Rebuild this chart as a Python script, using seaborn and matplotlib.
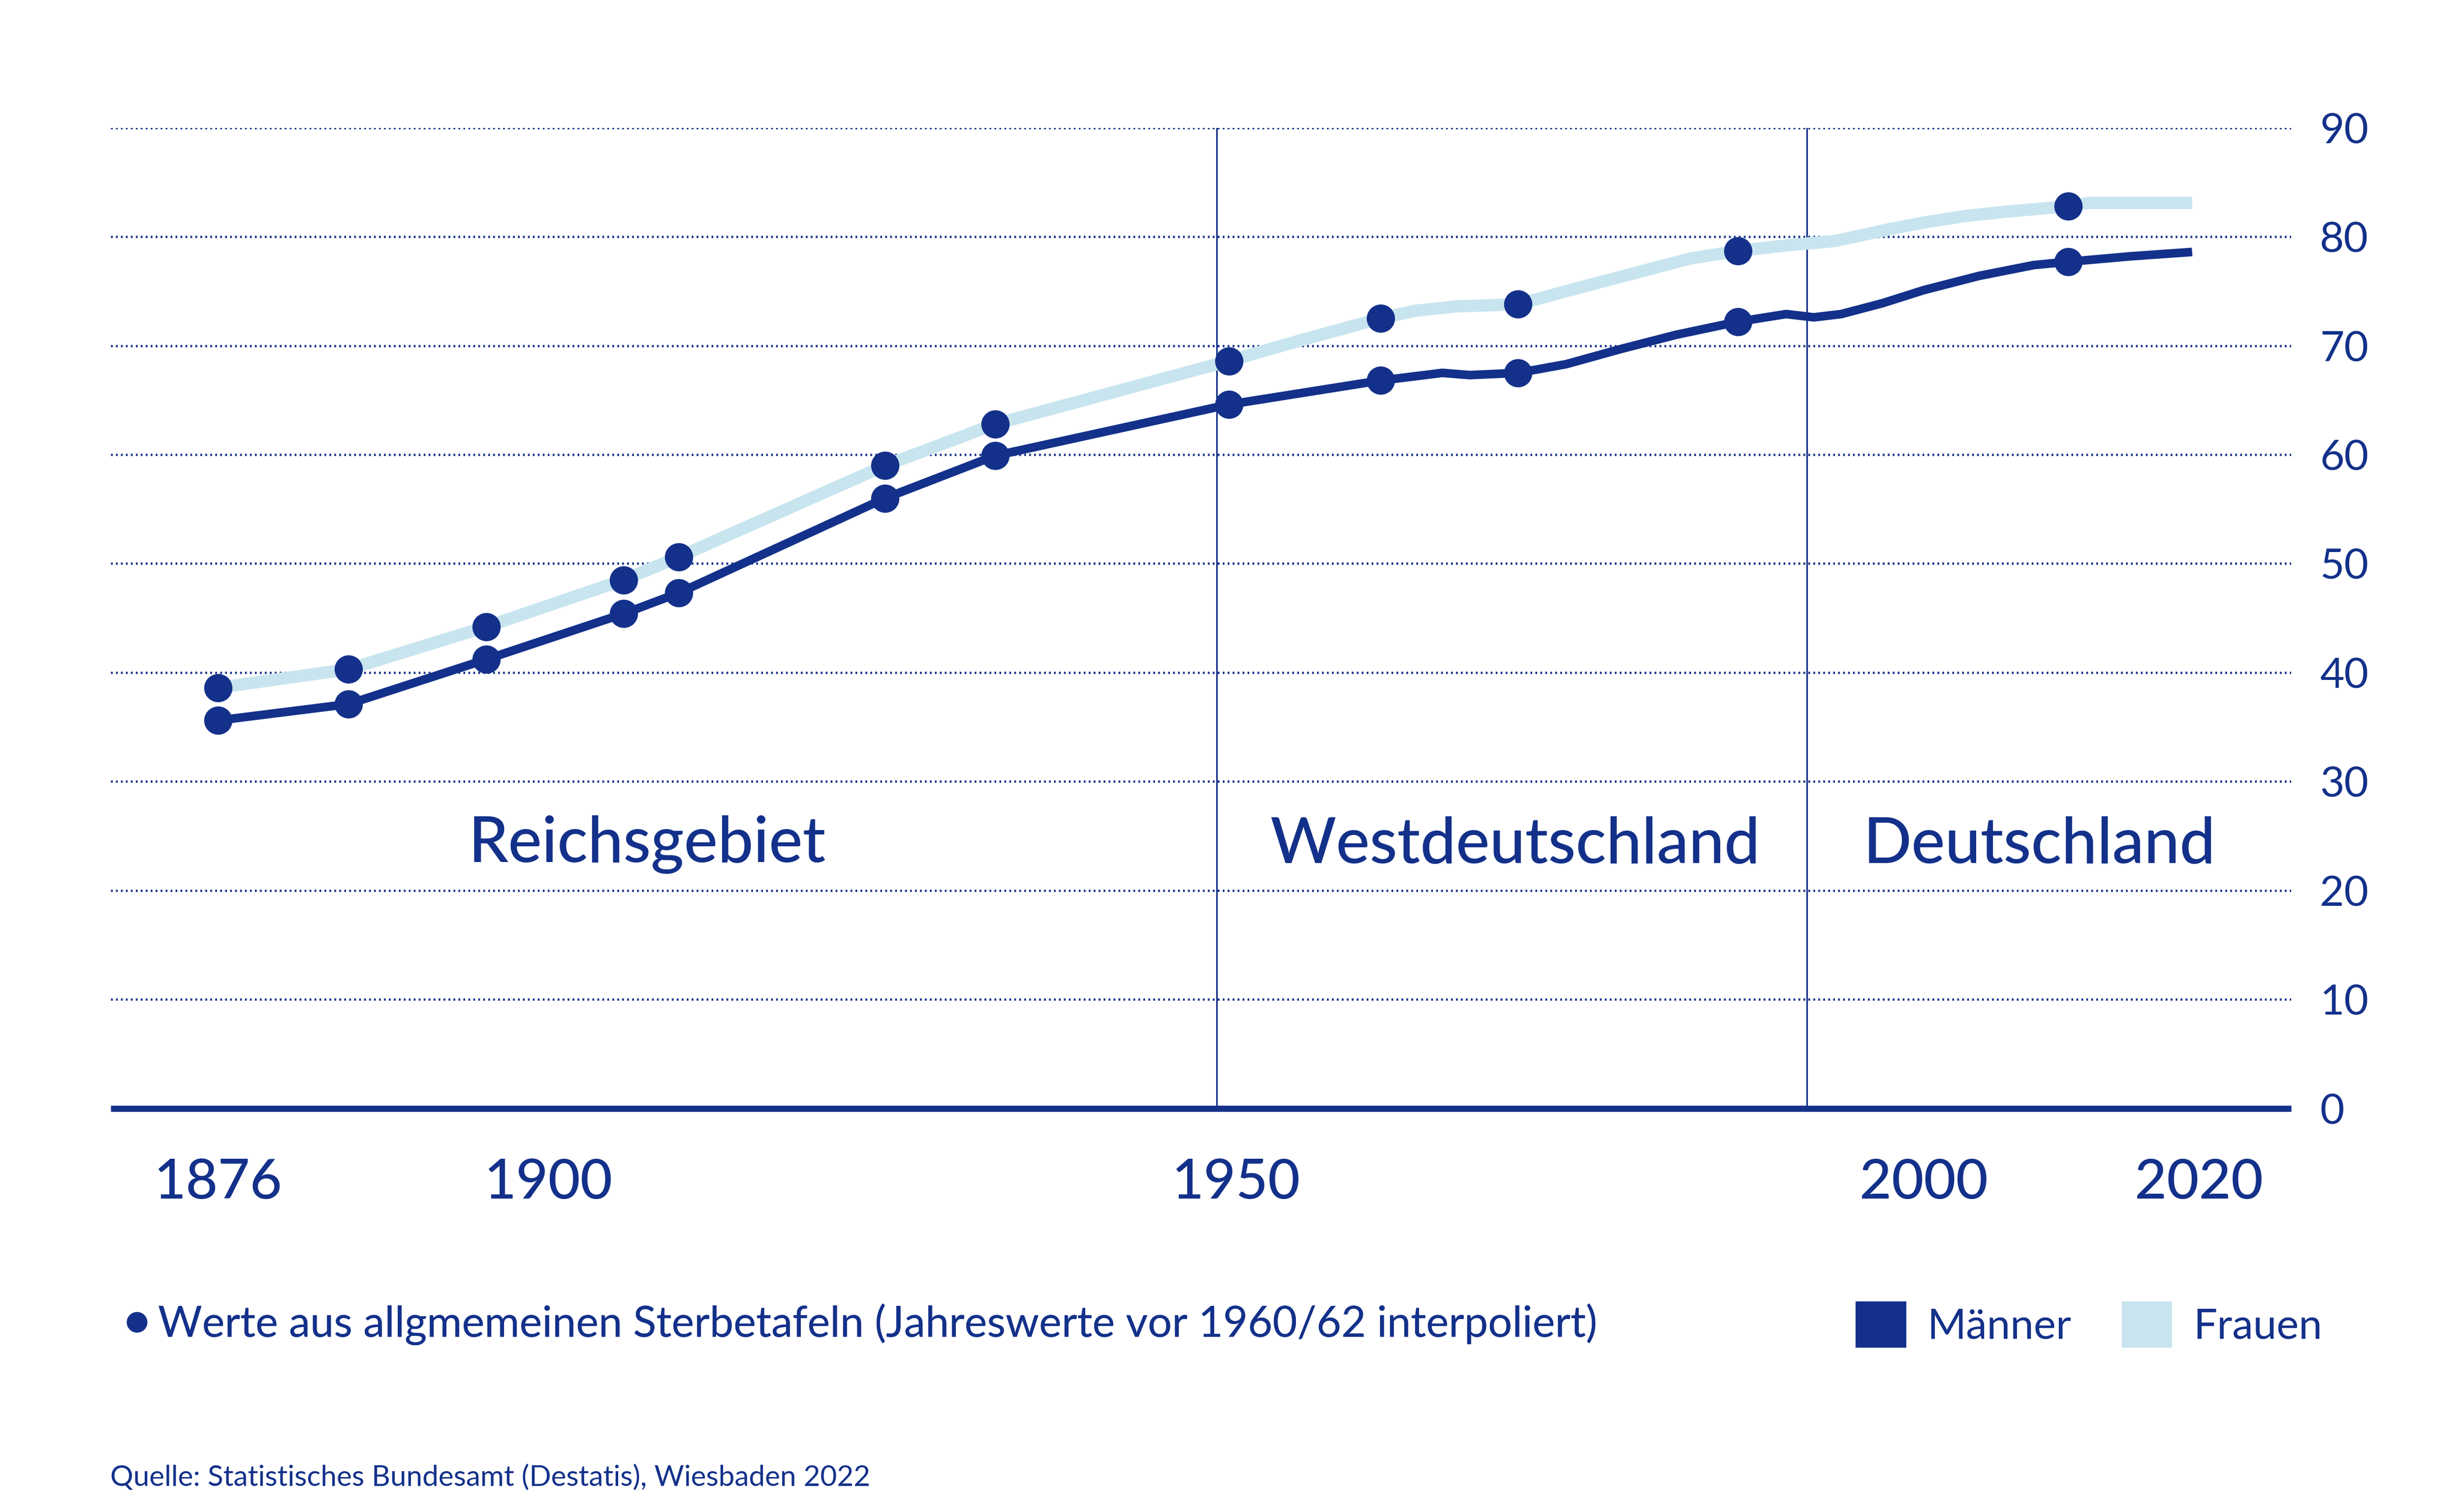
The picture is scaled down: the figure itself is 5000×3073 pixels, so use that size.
import matplotlib
matplotlib.use('Agg')
import matplotlib.pyplot as plt
import seaborn as sns
from matplotlib.lines import Line2D
from matplotlib.patches import Patch

# Lebenserwartung bei Geburt (Jahre)
point_years = [1876, 1885.5, 1895.5, 1905.5, 1909.5, 1924.5, 1932.5, 1949.5,
               1960.5, 1970.5, 1986.5, 2010.5]
men_points = [35.6, 37.1, 41.2, 45.4, 47.3, 56.0, 59.9, 64.6, 66.8, 67.5, 72.2, 77.7]
women_points = [38.6, 40.3, 44.2, 48.5, 50.6, 59.0, 62.8, 68.6, 72.5, 73.8, 78.7, 82.8]

men_years = [1876, 1885.5, 1895.5, 1905.5, 1909.5, 1924.5, 1932.5, 1949.5, 1955,
             1960.5, 1965, 1967, 1970.5, 1974, 1978, 1982, 1986.5, 1990, 1992, 1994,
             1997, 2000, 2004, 2008, 2010.5, 2015, 2019.5]
men_line = [35.6, 37.1, 41.2, 45.4, 47.3, 56.0, 59.9, 64.6, 65.7,
            66.8, 67.5, 67.3, 67.5, 68.3, 69.7, 71.0, 72.2, 72.9, 72.6, 72.9,
            73.9, 75.1, 76.4, 77.4, 77.7, 78.2, 78.6]

women_years = [1876, 1885.5, 1895.5, 1905.5, 1909.5, 1924.5, 1932.5, 1949.5, 1955,
               1960.5, 1963, 1966, 1970.5, 1974, 1977, 1983, 1986.5, 1990, 1993.5,
               1995, 1997.5, 2000, 2003, 2006, 2010.5, 2012, 2019.5]
women_line = [38.6, 40.3, 44.2, 48.5, 50.6, 59.0, 62.8, 68.6, 70.6,
              72.5, 73.2, 73.6, 73.8, 75.0, 76.0, 78.0, 78.7, 79.2, 79.6,
              80.0, 80.7, 81.3, 81.9, 82.3, 82.8, 83.1, 83.1]

boundaries = [1948.6, 1991.5]
regions = ['Reichsgebiet', 'Westdeutschland', 'Deutschland']
region_x = [1907.2, 1970.3, 2008.4]
year_ticks = [1876, 1900, 1950, 2000, 2020]
value_ticks = list(range(0, 91, 10))

navy = '#13318a'
light = '#c8e5ef'

sns.set_style('white')
plt.rcParams['font.family'] = ['Lato', 'DejaVu Sans']

fig = plt.figure(figsize=(5000 / 300, 3073 / 300), dpi=300)
ax = fig.add_axes([0.0449, 0.267, 0.931 - 0.0449, 0.9155 - 0.267])

sns.lineplot(x=women_years, y=women_line, sort=False, color=light, lw=6.0, ax=ax,
             solid_capstyle='butt', solid_joinstyle='round', zorder=3)
sns.lineplot(x=men_years, y=men_line, sort=False, color=navy, lw=4.2, ax=ax,
             solid_capstyle='butt', solid_joinstyle='round', zorder=4)
sns.scatterplot(x=point_years, y=women_points, color=navy, s=190, linewidth=0,
                ax=ax, zorder=5)
sns.scatterplot(x=point_years, y=men_points, color=navy, s=190, linewidth=0,
                ax=ax, zorder=5)

for b in boundaries:
    ax.axvline(b, color=navy, lw=0.8, zorder=2)

for name, x in zip(regions, region_x):
    ax.text(x, 24.2, name, ha='center', va='center', fontsize=31, color=navy,
            fontweight='medium')

ax.set_xlim(1868.2, 2026.7)
ax.set_ylim(0, 90)
ax.set_xticks(year_ticks)
ax.set_xticklabels([str(y) for y in year_ticks])
ax.set_yticks(value_ticks)
ax.yaxis.tick_right()
ax.tick_params(axis='x', length=0, pad=24, labelsize=27, labelcolor=navy)
ax.tick_params(axis='y', length=0, pad=14, labelsize=20.5, labelcolor=navy)
for lab in ax.get_xticklabels():
    lab.set_fontweight('medium')

ax.grid(False)
ax.yaxis.grid(True, color=navy, lw=1.1, linestyle=(0, (0.8, 1.4)), zorder=1)
for side in ['top', 'left', 'right']:
    ax.spines[side].set_visible(False)
ax.spines['bottom'].set_color(navy)
ax.spines['bottom'].set_linewidth(3)
ax.spines['bottom'].set_capstyle('butt')
ax.spines['bottom'].set_zorder(6)

dot = Line2D([], [], marker='o', color=navy, linestyle='none', markersize=9)
leg1 = fig.legend(handles=[dot],
                  labels=['Werte aus allgmemeinen Sterbetafeln (Jahreswerte vor 1960/62 interpoliert)'],
                  loc='center left', bbox_to_anchor=(0.0504, 0.124), frameon=False,
                  fontsize=20.8, handlelength=0.6, handletextpad=0.2, borderpad=0,
                  borderaxespad=0, labelcolor=navy)
patches = [Patch(facecolor=navy, edgecolor='none'), Patch(facecolor=light, edgecolor='none')]
leg2 = fig.legend(handles=patches, labels=['Männer', 'Frauen'], loc='center left',
                  bbox_to_anchor=(0.754, 0.124), frameon=False, ncol=2, fontsize=20.5,
                  handlelength=1.2, handleheight=1.3, handletextpad=0.5,
                  columnspacing=1.2, borderpad=0, borderaxespad=0, labelcolor=navy)
fig.add_artist(leg1)

fig.text(0.0449, 0.023, 'Quelle: Statistisches Bundesamt (Destatis), Wiesbaden 2022',
         fontsize=14, color=navy, va='center', ha='left')

fig.savefig('out.png', dpi=300, facecolor='white')
